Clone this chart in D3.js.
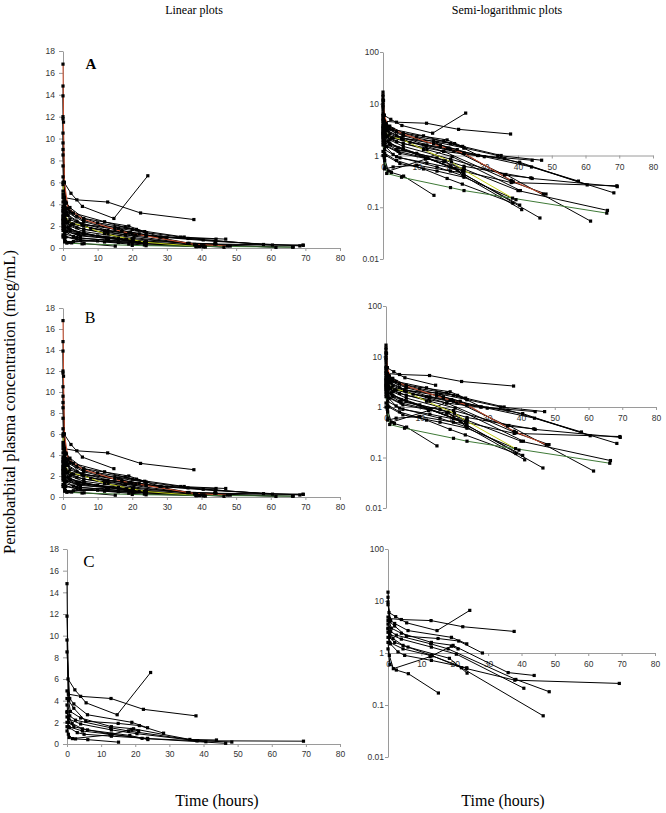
<!DOCTYPE html>
<html>
<head>
<meta charset="utf-8">
<script src="https://cdn.jsdelivr.net/npm/d3@7/dist/d3.min.js"></script>
<style>
  html, body { margin: 0; padding: 0; background: #fff; }
  svg { display: block; }
  .tick text { font-family: "Liberation Sans", Arial, sans-serif; font-size: 8.5px; fill: #333; }
  .domain, .tick line { stroke: #9a9a9a; stroke-width: 1; }
</style>
</head>
<body>
<svg id="chart" width="666" height="813"></svg>
<script>
// ---------------- DATA ----------------
const timeTicks = [0, 10, 20, 30, 40, 50, 60, 70, 80];
const linearTicks = [0, 2, 4, 6, 8, 10, 12, 14, 16, 18];
const logTicks = [0.01, 0.1, 1, 10, 100];
const columnTitles = ["Linear plots", "Semi-logarithmic plots"];
const yTitle = "Pentobarbital plasma concentration (mcg/mL)";
const xTitle = "Time (hours)";

// individual patient profiles: [time (h), concentration (mcg/mL)]
const p01 = [[0, 9.6], [0.4, 4.6], [4.0, 4.4], [12.9, 4.2], [22.4, 3.2], [37.8, 2.6]];
const p02 = [[0, 14.8], [0.3, 6.0], [2.3, 5.0], [5.6, 3.8], [14.7, 2.7], [24.5, 6.6]];
const p03 = [[0, 8.5], [0.8, 4.2], [2.0, 3.7], [6.0, 2.7], [19.0, 2.0], [23.6, 1.5]];
const p04 = [[0, 11.8], [0.5, 4.0], [2.0, 3.3], [5.5, 2.1], [15.0, 1.9], [21.2, 1.7], [28.3, 1.0]];
const p05 = [[0, 4.9], [1.0, 3.0], [4.0, 2.4], [13.0, 1.6], [19.5, 1.4], [36.0, 0.42], [43.8, 0.37]];
const p06 = [[0, 4.2], [0.8, 2.6], [2.5, 2.2], [12.8, 1.5], [18.0, 1.2], [38.3, 0.31], [48.3, 0.18]];
const p07 = [[0, 3.0], [0.5, 2.3], [4.0, 1.85], [13.0, 1.3], [20.5, 0.95], [40.7, 0.21]];
const p08 = [[0, 2.9], [1.5, 1.9], [4.5, 1.4], [13.0, 0.9], [22.0, 0.52], [46.5, 0.062]];
const p09 = [[0, 2.0], [0.5, 1.6], [4.5, 1.2], [13.2, 0.88], [23.6, 0.5], [38.0, 0.3], [69.3, 0.26]];
const p10 = [[0, 1.2], [0.6, 0.6], [2.5, 0.47], [6.1, 0.4], [15.1, 0.17]];
const p11 = [[0, 1.6], [0.4, 0.9], [1.6, 0.5], [12.6, 0.85], [19.0, 1.35], [21.0, 1.2]];
const p12 = [[0, 3.6], [0.5, 2.0], [2.0, 1.6], [6.0, 1.3], [18.4, 0.79], [23.7, 0.41]];
const p13 = [[0, 2.5], [0.7, 1.5], [3.0, 1.05], [5.0, 0.9], [13.0, 0.72], [23.6, 0.52]];
const p14 = [[0, 16.8], [0.15, 11.5], [0.4, 6.0], [1.5, 3.6], [6.0, 2.6], [17.0, 1.5], [24.0, 1.1], [38.0, 0.33], [47.5, 0.18]];
const p15 = [[0, 6.0], [0.4, 3.2], [1.5, 2.4], [6.0, 2.0], [12.0, 1.3], [20.3, 0.75], [24.0, 0.52], [38.4, 0.15]];
const p16 = [[0, 2.2], [0.5, 0.8], [1.1, 0.45], [5.5, 0.38], [20.0, 0.24], [24.0, 0.21], [66.3, 0.077]];
const p17 = [[0, 12.0], [0.3, 4.6], [2.0, 3.3], [6.0, 2.5], [16.0, 1.8], [24.0, 1.4], [34.0, 1.0], [47.0, 0.81]];
const p18 = [[0, 7.5], [0.4, 3.8], [1.5, 3.0], [5.5, 2.2], [17.0, 1.6], [28.0, 1.0], [44.2, 0.81]];
const p19 = [[0, 4.6], [0.5, 2.8], [3.0, 2.2], [12.0, 1.6], [24.0, 1.1], [36.1, 0.87], [57.9, 0.32]];
const p20 = [[0, 5.2], [0.5, 3.5], [2.0, 2.6], [8.0, 1.8], [20.0, 1.3], [40.5, 0.74], [60.5, 0.27]];
const p21 = [[0, 3.8], [1.0, 2.3], [6.0, 1.7], [18.0, 1.2], [30.0, 0.95], [44.0, 0.6], [68.4, 0.19]];
const p22 = [[0, 3.3], [0.5, 1.8], [4.0, 1.3], [16.0, 0.9], [24.0, 0.62], [44.2, 0.36], [69.4, 0.25]];
const p23 = [[0, 2.6], [1.0, 1.5], [5.0, 1.1], [18.0, 0.75], [24.0, 0.55], [40.0, 0.21], [66.5, 0.087]];
const p24 = [[0, 9.0], [0.3, 3.0], [2.0, 2.0], [6.0, 1.5], [20.0, 0.85], [36.4, 0.43], [61.5, 0.054]];
const p25 = [[0, 2.3], [0.5, 1.3], [4.0, 0.95], [16.0, 0.6], [24.0, 0.4], [41.1, 0.09]];
const p26 = [[0, 3.4], [0.5, 1.9], [6.0, 1.3], [20.0, 0.6], [40.5, 0.11]];
const p27 = [[0, 1.8], [0.8, 1.0], [5.0, 0.7], [16.0, 0.5], [24.0, 0.38], [39.4, 0.14]];
const p28 = [[0, 5.8], [0.4, 3.9], [1.0, 3.3], [6.0, 2.4], [15.0, 1.7], [22.0, 1.3], [38.6, 0.31]];
const p29 = [[0, 13.9], [0.2, 6.0], [1.0, 4.1], [3.0, 3.2], [12.0, 2.4], [20.0, 1.7], [35.0, 1.0]];
const p30 = [[0, 10.5], [0.3, 4.3], [1.0, 3.6], [4.0, 2.9], [10.0, 2.3], [18.0, 1.9], [24.0, 1.4]];
const p31 = [[0, 6.5], [0.5, 2.0], [2.0, 1.7], [10.0, 1.1], [20.0, 0.6], [24.0, 0.56]];
const p32 = [[0, 1.0], [0.5, 0.55], [3.0, 0.6], [10.0, 0.65], [20.0, 0.5], [24.0, 0.46]];
const p33 = [[0, 2.7], [0.5, 1.1], [4.0, 0.8], [12.0, 0.55], [19.0, 0.36], [23.5, 0.28], [38.5, 0.12]];

// group membership
const groupA = [p01, p02, p03, p04, p05, p06, p07, p08, p09, p10, p11, p12, p13, p17, p18, p19, p20, p21, p22, p23, p24, p25, p26, p27, p28, p29, p30, p31, p32, p33, p14, p15, p16];
const groupB = groupA;                 // same patients, outlying sample removed
const excludedFromB = [[24.5, 6.6]];   // outlier sample (patient p02)
const groupC = [p01, p02, p03, p04, p05, p06, p07, p08, p09, p10, p11, p12, p13];

// highlighted profiles (style)
const lineColors = new Map([[p14, "#d2502e"], [p15, "#c4cf1a"], [p16, "#3f7a37"]]);

// ---------------- DRAWING ----------------
const svg = d3.select("#chart");
const serif = "'Liberation Serif', 'Times New Roman', serif";

const rows = [
  { key: "A", data: groupA, excl: [],
    lin: { x0: 63, x1: 340, y0: 248, y1: 51 },
    log: { x0: 383, x1: 653, y0: 259, y1: 52 },
    letter: { x: 91, y: 69, size: 15, bold: true } },
  { key: "B", data: groupB, excl: excludedFromB,
    lin: { x0: 63, x1: 340, y0: 497, y1: 308 },
    log: { x0: 386, x1: 656, y0: 508, y1: 306 },
    letter: { x: 90, y: 323, size: 16, bold: false } },
  { key: "C", data: groupC, excl: [],
    lin: { x0: 67, x1: 340, y0: 744, y1: 549 },
    log: { x0: 388, x1: 655, y0: 757, y1: 549 },
    letter: { x: 89, y: 567, size: 17, bold: false } }
];

function filterPts(pts, excl) {
  return pts.filter(p => !excl.some(e => e[0] === p[0] && e[1] === p[1]));
}

function drawPanel(g, box, data, excl, isLog) {
  const x = d3.scaleLinear().domain([0, 80]).range([box.x0, box.x1]);
  const y = isLog
    ? d3.scaleLog().domain([0.01, 100]).range([box.y0, box.y1])
    : d3.scaleLinear().domain([0, 18]).range([box.y0, box.y1]);

  const yAxis = d3.axisLeft(y).tickValues(isLog ? logTicks : linearTicks)
    .tickSize(isLog ? 3 : 4).tickPadding(isLog ? 1 : 4).tickSizeOuter(0)
    .tickFormat(d => String(d));
  g.append("g").attr("transform", `translate(${box.x0},0)`).call(yAxis);

  const xAxis = d3.axisBottom(x).tickValues(timeTicks).tickSize(3).tickPadding(isLog ? 5 : 4)
    .tickSizeOuter(0).tickFormat(d => String(d));
  const xAt = isLog ? y(1) : y(0);
  g.append("g").attr("transform", `translate(0,${xAt})`).call(xAxis);

  const line = d3.line().x(d => x(d[0])).y(d => y(d[1]));
  const ordered = data.filter(p => !lineColors.has(p)).concat(data.filter(p => lineColors.has(p)));
  ordered.forEach(p => {
    const pts = filterPts(p, excl);
    const col = lineColors.get(p) || "#000";
    g.append("path").datum(pts).attr("d", line)
      .attr("fill", "none").attr("stroke", col).attr("stroke-width", 1);
  });
  ordered.forEach(p => {
    const pts = filterPts(p, excl);
    g.append("g").selectAll("rect").data(pts).join("rect")
      .attr("x", d => x(d[0]) - 1.6).attr("y", d => y(d[1]) - 1.6)
      .attr("width", 3.2).attr("height", 3.2).attr("fill", "#000");
  });
}

rows.forEach(r => {
  drawPanel(svg.append("g"), r.lin, r.data, r.excl, false);
  drawPanel(svg.append("g"), r.log, r.data, r.excl, true);
  svg.append("text").attr("x", r.letter.x).attr("y", r.letter.y)
    .attr("text-anchor", "middle").attr("font-family", serif)
    .attr("font-size", r.letter.size).attr("font-weight", r.letter.bold ? "bold" : "normal")
    .text(r.key);
});

svg.append("text").attr("x", 194).attr("y", 14).attr("text-anchor", "middle")
  .attr("font-family", serif).attr("font-size", 12).text(columnTitles[0]);
svg.append("text").attr("x", 507).attr("y", 14).attr("text-anchor", "middle")
  .attr("font-family", serif).attr("font-size", 12).text(columnTitles[1]);

svg.append("text").attr("transform", "translate(15,402) rotate(-90)")
  .attr("text-anchor", "middle").attr("font-family", serif).attr("font-size", 16.5)
  .text(yTitle);

svg.append("text").attr("x", 217).attr("y", 806).attr("text-anchor", "middle")
  .attr("font-family", serif).attr("font-size", 16).text(xTitle);
svg.append("text").attr("x", 503).attr("y", 806).attr("text-anchor", "middle")
  .attr("font-family", serif).attr("font-size", 16).text(xTitle);
</script>
</body>
</html>
